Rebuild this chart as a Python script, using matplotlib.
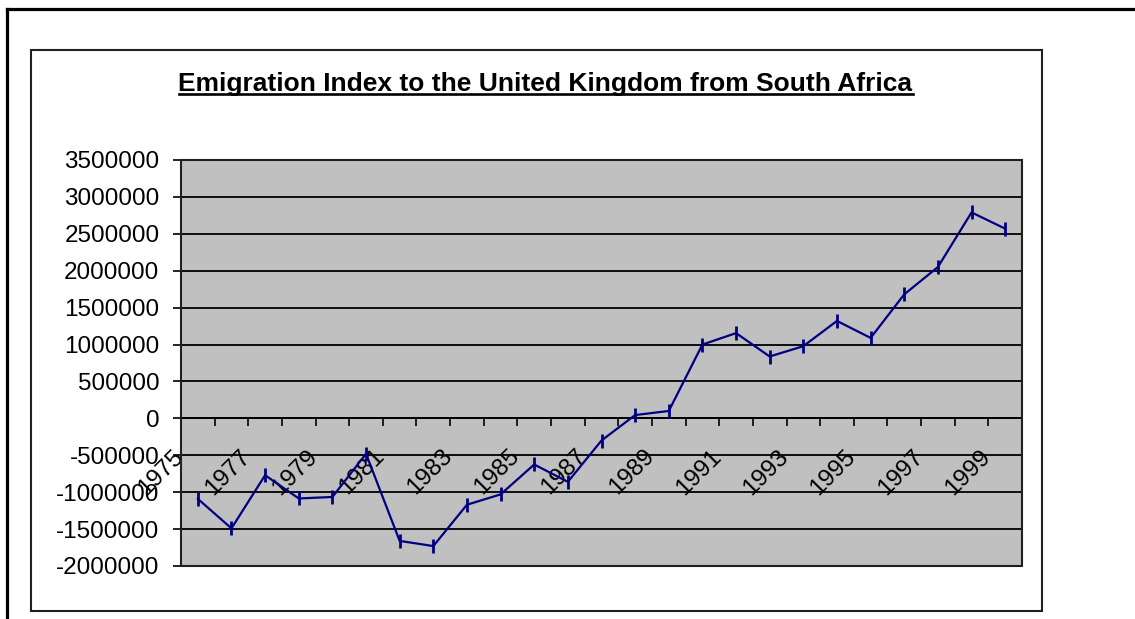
import matplotlib
matplotlib.use('Agg')
import matplotlib.pyplot as plt
from matplotlib.lines import Line2D
from matplotlib.patches import Rectangle
from matplotlib.transforms import ScaledTranslation

plt.rcParams['font.family'] = ['Liberation Sans', 'DejaVu Sans']

#data
years = list(range(1975, 2000))
index = [-1090000, -1490000, -770000, -1085000, -1065000, -480000, -1660000,
         -1730000, -1170000, -1030000, -625000, -860000, -300000, 45000,
         100000, 1000000, 1155000, 838000, 978000, 1320000, 1090000,
         1680000, 2050000, 2790000, 2570000]
y_ticks = list(range(-2000000, 3500001, 500000))
label_years = years[::2]

W, H = 1135, 619
fig = plt.figure(figsize=(W/100.0, H/100.0), dpi=100)
fig.patch.set_facecolor('white')

# outer frame (cut at right and bottom) and chart area frame
fig.add_artist(Line2D([7/W, 7/W], [0, 1-9/H], color='black', lw=2.3, transform=fig.transFigure))
fig.add_artist(Line2D([7/W, 1], [1-9/H, 1-9/H], color='black', lw=2.3, transform=fig.transFigure))
fig.add_artist(Rectangle((31/W, 1-611/H), (1042-31)/W, (611-50)/H, fill=False,
                         ec='#202020', lw=1.5, transform=fig.transFigure))

ax = fig.add_axes([181/W, 1-566/H, 841/W, 406/H])
ax.set_facecolor('#c0c0c0')

n = len(years)
xs = [i + 0.5 for i in range(n)]
ax.plot(xs, index, color='#000080', lw=1.6, marker='|', ms=10, mew=2.0, zorder=5)

ax.set_xlim(0, n)
ax.set_ylim(-2000000, 3500000)

ax.set_yticks(y_ticks)
ax.set_yticklabels([str(v) for v in y_ticks])
ax.yaxis.grid(True, color='black', lw=1.3)
ax.set_axisbelow(True)
ax.tick_params(axis='y', direction='out', length=6, width=1.2, pad=9.5, labelsize=17.5)

# category axis crossing at zero
for s in ['top', 'right', 'left']:
    ax.spines[s].set_visible(False)
ax.spines['bottom'].set_position(('data', 0))
ax.spines['bottom'].set_linewidth(1.3)
ax.add_patch(Rectangle((0, 0), 1, 1, fill=False, ec='#202020', lw=1.5,
                       transform=ax.transAxes, zorder=6, clip_on=False))

ax.set_xticks(range(n + 1), minor=True)
ax.tick_params(axis='x', which='minor', direction='out', length=6, width=1.2)
ax.set_xticks([xs[years.index(y)] for y in label_years])
ax.set_xticklabels([str(y) for y in label_years], rotation=45, ha='right', va='top',
                   rotation_mode='anchor', fontsize=17.5)
ax.tick_params(axis='x', which='major', length=0, pad=0)
off = ScaledTranslation(-26/100.0, -27/100.0, fig.dpi_scale_trans)
for lab in ax.get_xticklabels():
    lab.set_transform(lab.get_transform() + off)

# title with underline
t = fig.text(545.5/W, 1-91/H, 'Emigration Index to the United Kingdom from South Africa',
             ha='center', va='baseline', fontsize=19, fontweight='bold')
fig.canvas.draw()
bb = t.get_window_extent(fig.canvas.get_renderer())
uy = H - 94
fig.add_artist(Line2D([bb.x0/W, bb.x1/W], [uy/H, uy/H], color='black', lw=1.9,
                      transform=fig.transFigure))

fig.savefig('out.png', dpi=100)
